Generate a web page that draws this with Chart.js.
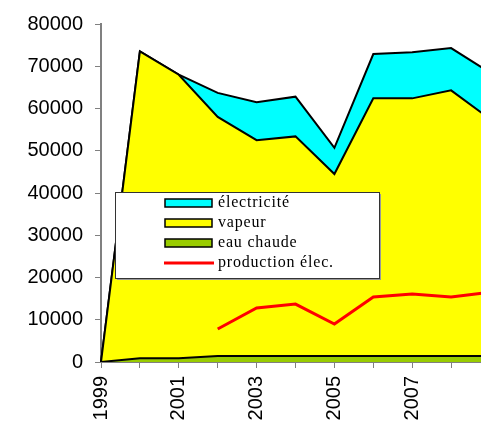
<!DOCTYPE html>
<html>
<head>
<meta charset="utf-8">
<script src="https://cdn.jsdelivr.net/npm/chart.js@4"></script>
<style>
html, body { margin: 0; padding: 0; overflow: hidden; background: #fff; }
#wrap { width: 522px; height: 425px; }
</style>
</head>
<body>
<div id="wrap"><canvas id="chart"></canvas></div>
<script>
// Données
const annees = ['1999', '2000', '2001', '2002', '2003', '2004', '2005', '2006', '2007', '2008', '2009'];
const eauChaude = [0, 900, 900, 1400, 1400, 1400, 1400, 1400, 1400, 1400, 1400];
const vapeur = [0, 72600, 67100, 56600, 51100, 52000, 43100, 61000, 61000, 62900, 56100];
const electricite = [0, 0, 0, 5700, 9000, 9400, 6200, 10500, 10900, 10000, 11000];
const productionElec = [null, null, null, 7800, 12800, 13700, 9000, 15400, 16100, 15400, 16500];

// Légende dessinée dans le graphique (boite blanche)
const legendeBoite = {
    id: 'legendeBoite',
    afterDatasetsDraw(chart) {
        const ctx = chart.ctx;
        const ds = chart.data.datasets;
        const ordre = [2, 1, 0, 3];
        const x = chart.chartArea.left + 14, y = 192, w = 264, h = 86;
        ctx.save();
        ctx.fillStyle = '#999';
        ctx.fillRect(x + 2, y + 2, w, h);
        ctx.fillStyle = '#fff';
        ctx.fillRect(x, y, w, h);
        ctx.strokeStyle = '#333';
        ctx.lineWidth = 1;
        ctx.strokeRect(x + 0.5, y + 0.5, w, h);
        ctx.font = '16px "Liberation Serif", "Times New Roman", serif';
        ctx.letterSpacing = '0.8px';
        ctx.textBaseline = 'middle';
        ordre.forEach((i, k) => {
            const d = ds[i];
            const cy = y + 11 + k * 20;
            if (d.fill === false) {
                ctx.strokeStyle = d.borderColor;
                ctx.lineWidth = 3;
                ctx.beginPath();
                ctx.moveTo(x + 49, cy);
                ctx.lineTo(x + 99, cy);
                ctx.stroke();
            } else {
                ctx.fillStyle = d.backgroundColor;
                ctx.fillRect(x + 50, cy - 4, 47, 8);
                ctx.strokeStyle = '#000';
                ctx.lineWidth = 1.5;
                ctx.strokeRect(x + 50, cy - 4, 47, 8);
            }
            ctx.fillStyle = '#000';
            ctx.fillText(d.label, x + 103, cy);
        });
        ctx.restore();
    }
};

const chart = document.getElementById('chart');

const ctx = new Chart(chart, {
    type: 'line',
    data: {
        labels: annees,
        datasets: [
            {
                label: 'eau chaude',
                data: eauChaude,
                stack: 'energie',
                fill: 'origin',
                backgroundColor: '#99CC00',
                borderColor: '#000',
                borderWidth: 2,
                order: 1
            },
            {
                label: 'vapeur',
                data: vapeur,
                stack: 'energie',
                fill: '-1',
                backgroundColor: '#FFFF00',
                borderColor: '#000',
                borderWidth: 2,
                order: 1
            },
            {
                label: 'électricité',
                data: electricite,
                stack: 'energie',
                fill: '-1',
                backgroundColor: '#00FFFF',
                borderColor: '#000',
                borderWidth: 2,
                order: 1
            },
            {
                label: 'production élec.',
                data: productionElec,
                stack: 'prod',
                fill: false,
                borderColor: '#FF0000',
                borderWidth: 3,
                order: 0
            }
        ]
    },
    options: {
        responsive: true,
        maintainAspectRatio: false,
        animation: false,
        layout: { padding: { top: 24, left: 0, right: 0, bottom: 0 } },
        elements: {
            point: { radius: 0 },
            line: { tension: 0 }
        },
        scales: {
            x: {
                offset: false,
                grid: { drawOnChartArea: false, tickLength: 6, color: '#808080' },
                border: { color: '#808080', width: 1 },
                ticks: {
                    autoSkip: false,
                    minRotation: 90,
                    maxRotation: 90,
                    padding: 8,
                    color: '#000',
                    font: { family: '"Liberation Sans", Arial, sans-serif', size: 20 },
                    callback: function (v, i) { return i % 2 === 0 ? this.getLabelForValue(v) : ''; }
                },
                afterFit: (s) => { s.height = 63; }
            },
            y: {
                stacked: true,
                min: 0,
                max: 80000,
                grid: { drawOnChartArea: false, tickLength: 6, color: '#808080' },
                border: { color: '#808080', width: 2 },
                ticks: {
                    stepSize: 10000,
                    padding: 12,
                    color: '#000',
                    font: { family: '"Liberation Sans", Arial, sans-serif', size: 20 },
                    callback: (v) => String(v)
                },
                afterFit: (s) => { s.width = 101; }
            }
        },
        plugins: {
            legend: { display: false },
            tooltip: { enabled: false }
        }
    },
    plugins: [legendeBoite]
});
</script>
</body>
</html>
